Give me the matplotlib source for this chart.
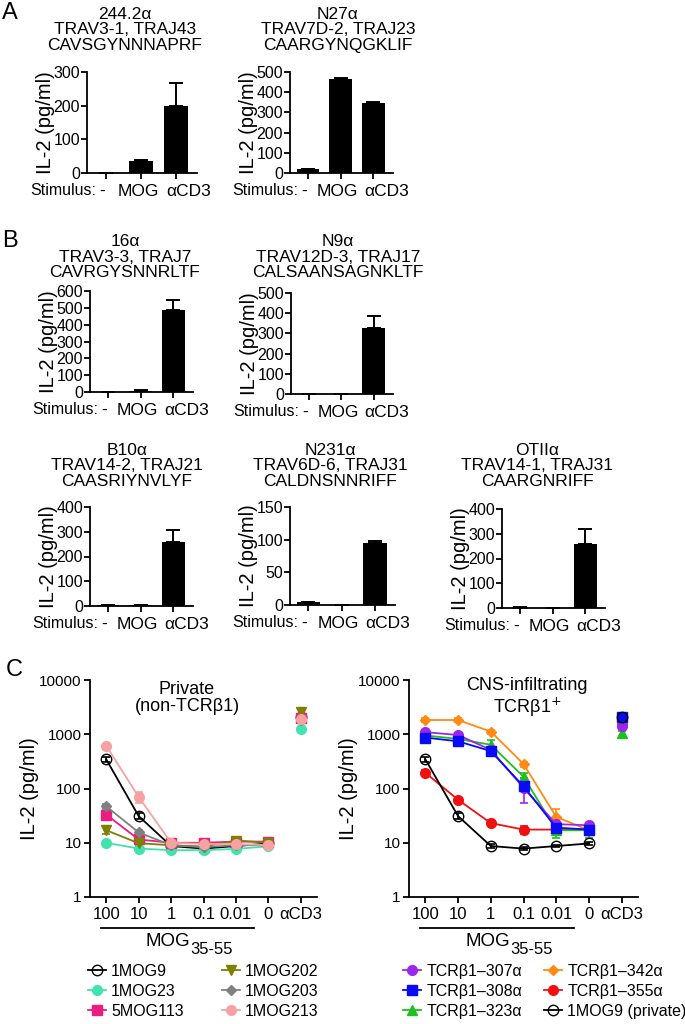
import numpy as np
import matplotlib.pyplot as plt
import matplotlib.transforms as mtransforms
from matplotlib.lines import Line2D
from matplotlib.ticker import NullLocator

plt.rcParams['font.family'] = ['Liberation Sans', 'DejaVu Sans']
plt.rcParams['axes.linewidth'] = 1.3

# ── data: panels A/B (IL-2 pg/ml for -, MOG, aCD3) ──────────
stimuli = ['-', 'MOG', 'αCD3']

il2_244 = [0, 37, 200]
err_244 = [0, 2, 66]
il2_n27 = [20, 465, 345]
err_n27 = [2, 6, 6]
il2_16 = [0, 8, 486]
err_16 = [0, 2, 63]
il2_n9 = [0, 0, 326]
err_n9 = [0, 0, 58]
il2_b10 = [4, 5, 260]
err_b10 = [1, 1, 46]
il2_n231 = [4, 0, 95]
err_n231 = [1, 0, 3]
il2_otii = [2, 1, 258]
err_otii = [1, 1, 60]

# ── data: panel C (IL-2 vs MOG35-55 dose) ───────────────────
doses = ['100', '10', '1', '0.1', '0.01', '0', 'αCD3']

mog9 = [345, 31, 8.7, 7.8, 8.7, 9.7, 2050]
mog9_err = [40, 4, 0.6, 0.4, 0.5, 0.6, 300]
mog23 = [10, 7.8, 7.3, 7.3, 7.7, 8.6, 1270]
mog23_err = [0.8, 0.6, 0.4, 0.4, 0.5, 0.8, 100]
mog113 = [33, 11.5, 10, 10, 10.5, 10.5, 2000]
mog113_err = [4, 1.5, 0.6, 0.6, 1, 0.8, 200]
mog202 = [17, 9.8, 9, 8.5, 11, 10, 2600]
mog202_err = [2.5, 0.6, 0.6, 0.6, 1.5, 0.8, 300]
mog203 = [47, 15.5, 9, 8.3, 9, 9, 1800]
mog203_err = [5, 2, 0.6, 0.5, 0.6, 0.6, 200]
mog213 = [615, 70, 10, 9.5, 9.5, 9, 1900]
mog213_err = [60, 15, 0.8, 0.6, 0.6, 0.6, 200]

tcr307 = [1090, 970, 515, 103, 22, 21, 1440]
tcr307_err = [100, 80, 60, 50, 3, 2, 150]
tcr308 = [870, 740, 490, 110, 19, 17.5, 2100]
tcr308_err = [80, 70, 50, 20, 3, 3, 150]
tcr323 = [950, 820, 640, 165, 17, 17, 1040]
tcr323_err = [80, 70, 140, 25, 5, 5, 100]
tcr342 = [1830, 1830, 1120, 283, 30, 17, 1500]
tcr342_err = [150, 150, 100, 30, 12, 3, 100]
tcr355 = [195, 62, 23, 17.5, 17.5, 17.5, 1500]
tcr355_err = [20, 6, 3, 3, 2, 2, 100]

W, H = 685, 1024
fig = plt.figure(figsize=(W / 100, H / 100), dpi=100)


def add_ax(x0, y0, x1, y1):
    # box given in pixels from the top-left corner
    return fig.add_axes([x0 / W, 1 - y1 / H, (x1 - x0) / W, (y1 - y0) / H])


def ftext(x, y, s, **kw):
    fig.text(x / W, 1 - y / H, s, **kw)


def shift_px(dx):
    return mtransforms.ScaledTranslation(dx / 100, 0, fig.dpi_scale_trans)


def bar_panel(box, vals, errs, ymax, ystep, title, tx, ty):
    ax = add_ax(*box)
    x = np.arange(len(stimuli))
    ax.bar(x, vals, width=0.7, color='black')
    ax.errorbar(x, vals, yerr=[np.zeros(len(x)), errs], fmt='none',
                ecolor='black', elinewidth=1.4, capsize=5, capthick=1.4)
    ax.set_xlim(-0.55, 2.6)
    ax.set_ylim(0, ymax)
    ax.set_yticks(np.arange(0, ymax + 1, ystep))
    ax.set_xticks(x, stimuli)
    ax.tick_params(axis='y', labelsize=11.5, length=4, width=1.3, pad=1)
    ax.tick_params(axis='x', labelsize=12.5, length=4, width=1.3, pad=4)
    # the stimulus labels sit a little off their ticks in the original
    for lab, dx in zip(ax.get_xticklabels(), [-4, -3, 13]):
        lab.set_transform(lab.get_transform() + shift_px(dx))
    ax.spines[['top', 'right']].set_visible(False)
    ax.set_ylabel('IL-2 (pg/ml)', fontsize=14.5, labelpad=-1)
    ax.annotate('Stimulus:', xy=(0, 0), xycoords=('data', 'axes fraction'),
                xytext=(-10, -10), textcoords='offset pixels',
                ha='right', va='top', fontsize=11.5)
    ftext(tx, ty, title, ha='center', va='center', fontsize=12.5,
          linespacing=1.05)
    return ax


# ── Panel A ─────────────────────────────────────────────────
bar_panel((87, 72, 197, 173), il2_244, err_244, 300, 100,
          '244.2α\nTRAV3-1, TRAJ43\nCAVSGYNNNAPRF', 125, 30)
bar_panel((290, 72, 393, 173), il2_n27, err_n27, 500, 100,
          'N27α\nTRAV7D-2, TRAJ23\nCAARGYNQGKLIF', 338, 30)

# ── Panel B ─────────────────────────────────────────────────
bar_panel((90, 291, 193, 392), il2_16, err_16, 600, 100,
          '16α\nTRAV3-3, TRAJ7\nCAVRGYSNNRLTF', 125, 257)
bar_panel((291, 293, 393, 394), il2_n9, err_n9, 500, 100,
          'N9α\nTRAV12D-3, TRAJ17\nCALSAANSAGNKLTF', 338, 257)
bar_panel((90, 507, 193, 606), il2_b10, err_b10, 400, 100,
          'B10α\nTRAV14-2, TRAJ21\nCAASRIYNVLYF', 127, 466)
bar_panel((290, 507, 395, 605), il2_n231, err_n231, 150, 50,
          'N231α\nTRAV6D-6, TRAJ31\nCALDNSNNRIFF', 330, 466)
bar_panel((502, 509, 605, 608), il2_otii, err_otii, 400, 100,
          'OTIIα\nTRAV14-1, TRAJ31\nCAARGNRIFF', 537, 466)

ftext(10, 13, 'A', ha='center', va='center', fontsize=17)
ftext(10, 241, 'B', ha='center', va='center', fontsize=17)
ftext(14, 670, 'C', ha='center', va='center', fontsize=17)


# ── Panel C ─────────────────────────────────────────────────
def dose_panel(box, series, head, hx):
    ax = add_ax(*box)
    x = np.arange(len(doses))
    handles = []
    for vals, errs, color, marker, mfc, ms in series:
        kw = dict(color=color, marker=marker, mfc=mfc, mec=color, ms=ms,
                  elinewidth=1.2, capsize=3, capthick=1.2)
        ax.errorbar(x[:6], vals[:6], yerr=errs[:6], lw=1.3, **kw)
        ax.errorbar(x[6:], vals[6:], yerr=errs[6:], ls='none', **kw)
        handles.append(Line2D([0], [0], color=color, marker=marker, mfc=mfc,
                              mec=color, ms=ms, lw=1.3))
    ax.set_yscale('log')
    ax.set_ylim(1, 10000)
    ax.set_yticks([1, 10, 100, 1000, 10000], ['1', '10', '100', '1000', '10000'])
    ax.yaxis.set_minor_locator(NullLocator())
    ax.set_xlim(-0.5, 6.5)
    ax.set_xticks(x, doses)
    ax.tick_params(axis='y', labelsize=11, length=4, width=1.3, pad=2)
    ax.tick_params(axis='x', labelsize=12, length=4, width=1.3, pad=3)
    ax.spines[['top', 'right']].set_visible(False)
    ax.set_ylabel('IL-2 (pg/ml)', fontsize=14.5, labelpad=0)

    trans = mtransforms.blended_transform_factory(ax.transData, ax.transAxes)
    ax.plot([-0.15, 4.55], [-0.143, -0.143], transform=trans, color='black',
            lw=1.3, clip_on=False)
    ax.text(2.6, -0.228, 'MOG', transform=trans, ha='right', va='baseline',
            fontsize=13.5)
    ax.text(2.6, -0.262, '35-55', transform=trans, ha='left', va='baseline',
            fontsize=12)
    ftext(hx, 698, head, ha='center', va='center', fontsize=13,
          linespacing=1.05)
    return ax, handles


left_series = [
    (mog9, mog9_err, 'black', 'o', 'none', 7.5),
    (mog23, mog23_err, '#3FE3AE', 'o', '#3FE3AE', 7),
    (mog113, mog113_err, '#EC1C80', 's', '#EC1C80', 7),
    (mog202, mog202_err, '#7F7F00', 'v', '#7F7F00', 7),
    (mog203, mog203_err, '#808080', 'D', '#808080', 5),
    (mog213, mog213_err, '#F6A2A2', 'o', '#F6A2A2', 7),
]
left_names = ['1MOG9', '1MOG23', '5MOG113', '1MOG202', '1MOG203', '1MOG213']

right_series = [
    (tcr342, tcr342_err, '#FF8A14', 'D', '#FF8A14', 5),
    (tcr355, tcr355_err, '#F01010', 'o', '#F01010', 7),
    (tcr323, tcr323_err, '#1FBF1F', '^', '#1FBF1F', 7),
    (tcr307, tcr307_err, '#9B26F0', 'o', '#9B26F0', 7),
    (tcr308, tcr308_err, '#0A0AF5', 's', '#0A0AF5', 7),
    (mog9, mog9_err, 'black', 'o', 'none', 7.5),
]
right_names = ['TCRβ1–342α', 'TCRβ1–355α', 'TCRβ1–323α',
               'TCRβ1–307α', 'TCRβ1–308α', '1MOG9 (private)']

axl, hl = dose_panel((90, 680, 317, 897), left_series,
                     'Private\n(non-TCRβ1)', 187)
axr, hr = dose_panel((409, 680, 638, 897), right_series,
                     'CNS-infiltrating\nTCRβ1$^{+}$', 527)

leg_kw = dict(loc='upper left', bbox_transform=fig.transFigure, frameon=False,
              fontsize=11.5, borderpad=0, borderaxespad=0, handlelength=1.1,
              handletextpad=0.35, labelspacing=0.3)


def legend_col(handles, names, x, y):
    fig.legend(handles, names, bbox_to_anchor=(x / W, 1 - y / H), **leg_kw)


legend_col(hl[:3], left_names[:3], 88, 964)
legend_col(hl[3:], left_names[3:], 222, 964)
order_r = [3, 4, 2]
legend_col([hr[i] for i in order_r], [right_names[i] for i in order_r], 403, 964)
order_r2 = [0, 1, 5]
legend_col([hr[i] for i in order_r2], [right_names[i] for i in order_r2], 544, 964)

fig.savefig('out.png', dpi=100)
